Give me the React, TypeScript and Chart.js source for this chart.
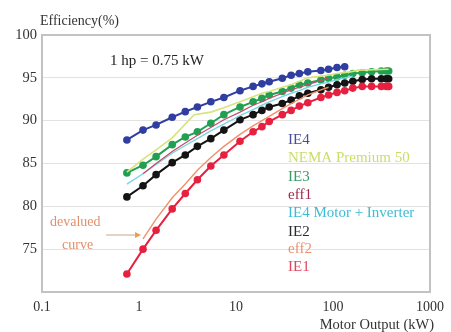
import React, { useEffect, useRef } from "react";
import { Chart, registerables } from "chart.js";

Chart.register(...registerables);

// IEC rated outputs (kW)
const kwIEC = [0.75, 1.1, 1.5, 2.2, 3, 4, 5.5, 7.5, 11, 15, 18.5, 22, 30, 37, 45, 55, 75, 90, 110, 132, 160, 200, 250, 315, 355, 375];
const kwEff = [1.1, 1.5, 2.2, 3, 4, 5.5, 7.5, 11, 15, 18.5, 22, 30, 37, 45, 55, 75, 90];
const kwNema = [0.75, 1.1, 1.5, 2.2, 3.7, 5.5, 7.5, 11, 15, 18.5, 22, 30, 37, 45, 55, 75, 90, 110, 150, 185, 375];

const ie4Values = [87.75, 88.9, 89.5, 90.4, 91.05, 91.6, 92.2, 92.7, 93.5, 94.0, 94.3, 94.55, 94.95, 95.3, 95.5, 95.7, 95.85, 96.0, 96.2, 96.3];
const ie3Values = [83.9, 84.8, 85.8, 87.2, 88.1, 88.7, 89.7, 90.7, 91.6, 92.2, 92.6, 93.0, 93.4, 93.8, 94.2, 94.4, 94.75, 94.95, 95.1, 95.3, 95.5, 95.6, 95.7, 95.8, 95.8, 95.8];
const ie2Values = [81.1, 82.4, 83.7, 85.1, 86.0, 87.0, 87.9, 88.9, 90.1, 90.7, 91.2, 91.6, 92.0, 92.4, 92.9, 93.2, 93.6, 93.9, 94.2, 94.4, 94.6, 94.8, 94.9, 94.9, 94.9, 94.9];
const ie1Values = [72.1, 75.0, 77.2, 79.7, 81.5, 83.1, 84.7, 86.0, 87.6, 88.7, 89.3, 89.9, 90.7, 91.2, 91.7, 92.1, 92.7, 93.0, 93.3, 93.5, 93.8, 94.0, 94.0, 94.0, 94.0, 94.0];
const nemaValues = [84.0, 85.5, 86.6, 88.0, 90.7, 91.0, 91.5, 92.2, 92.8, 93.2, 93.4, 93.9, 94.2, 94.6, 95.0, 95.2, 95.3, 95.5, 95.7, 95.9, 96.0];
const eff1Values = [83.8, 85.0, 86.4, 87.4, 88.3, 89.2, 90.1, 91.0, 91.8, 92.2, 92.6, 93.2, 93.6, 93.9, 94.2, 94.7, 95.0];
const eff2Values = [76.2, 78.5, 81.0, 82.6, 84.2, 85.7, 87.0, 88.4, 89.4, 90.0, 90.5, 91.4, 92.0, 92.5, 93.0, 93.6, 93.9];
const inverterValues = [82.6, 83.8, 84.9, 86.2, 87.1, 87.9, 88.8, 89.6, 90.6, 91.3, 91.8, 92.2, 92.8, 93.2, 93.5, 93.9, 94.3, 94.5, 94.8, 95.0, 95.2];

const xTicks = [0.1, 1, 10, 100, 1000];
const xTickLabels = ["0.1", "1", "10", "100", "1000"];
const yTickHidden = 70;

const legendLabels = ["IE4", "NEMA Premium 50", "IE3", "eff1", "IE4 Motor + Inverter", "IE2", "eff2", "IE1"];
const legendColors = ["#4a4c98", "#ccdc68", "#3a9a6c", "#a22a4c", "#3cbcd4", "#2a2a34", "#ea9272", "#e24460"];

const SERIF = "'Liberation Serif', 'DejaVu Serif', serif";

function pts(xs: number[], ys: number[]) {
  return ys.map((y, i) => ({ x: xs[i], y }));
}

const annotations = {
  id: "annotations",
  beforeDatasetsDraw(chart: any) {
    const { ctx, chartArea } = chart;
    ctx.save();
    ctx.strokeStyle = "#c2c2c2";
    ctx.lineWidth = 2;
    ctx.strokeRect(chartArea.left, chartArea.top, chartArea.right - chartArea.left, chartArea.bottom - chartArea.top);
    ctx.restore();
  },
  afterDatasetsDraw(chart: any) {
    const { ctx, scales } = chart;
    ctx.save();
    ctx.textBaseline = "middle";
    ctx.textAlign = "left";
    // y axis title
    ctx.fillStyle = "#333";
    ctx.font = `14px ${SERIF}`;
    ctx.fillText("Efficiency(%)", 40, 21);
    // note
    ctx.font = `15px ${SERIF}`;
    ctx.fillStyle = "#222";
    ctx.fillText("1 hp = 0.75 kW", 110, 61);
    // legend texts
    ctx.font = `15px ${SERIF}`;
    const ys = [140, 158, 177, 195, 213, 232, 249, 267];
    legendLabels.forEach((t, i) => {
      ctx.fillStyle = legendColors[i];
      ctx.fillText(t, 288, ys[i]);
    });
    // devalued curve
    ctx.fillStyle = "#e2906c";
    ctx.font = `14px ${SERIF}`;
    ctx.fillText("devalued", 50, 222);
    ctx.fillText("curve", 62, 245);
    const ax = scales.x.getPixelForValue(1.05);
    const ay = 235;
    ctx.strokeStyle = "#c8a890";
    ctx.lineWidth = 1;
    ctx.beginPath();
    ctx.moveTo(106, ay);
    ctx.lineTo(ax - 4, ay);
    ctx.stroke();
    ctx.fillStyle = "#e8a050";
    ctx.beginPath();
    ctx.moveTo(ax, ay);
    ctx.lineTo(ax - 6, ay - 3);
    ctx.lineTo(ax - 6, ay + 3);
    ctx.closePath();
    ctx.fill();
    // x axis title
    ctx.fillStyle = "#333";
    ctx.font = `14.5px ${SERIF}`;
    ctx.textAlign = "right";
    ctx.fillText("Motor Output (kW)", 434, 325);
    ctx.restore();
  },
};

export default function App() {
  const ref = useRef<HTMLCanvasElement | null>(null);
  useEffect(() => {
    if (!ref.current) return;
    const markerSet = (label: string, xs: number[], ys: number[], color: string) => ({
      label,
      data: pts(xs, ys),
      showLine: true,
      borderColor: color,
      backgroundColor: color,
      borderWidth: 2,
      pointRadius: 3.8,
      pointBorderWidth: 0,
      pointHoverRadius: 3.8,
      order: 2,
    });
    const lineSet = (label: string, xs: number[], ys: number[], color: string, w = 1.4) => ({
      label,
      data: pts(xs, ys),
      showLine: true,
      borderColor: color,
      backgroundColor: color,
      borderWidth: w,
      pointRadius: 0,
      order: 1,
    });
    const chart = new Chart(ref.current, {
      type: "scatter",
      data: {
        datasets: [
          markerSet("IE1", kwIEC, ie1Values, "#e82040"),
          markerSet("IE2", kwIEC, ie2Values, "#141414"),
          markerSet("IE3", kwIEC, ie3Values, "#22a052"),
          markerSet("IE4", kwIEC, ie4Values, "#2f3ea0"),
          lineSet("eff2", kwEff, eff2Values, "#f0906c"),
          lineSet("eff1", kwEff, eff1Values, "#c84a6c", 1.2),
          lineSet("IE4 Motor + Inverter", kwIEC, inverterValues, "#7cd4e4"),
          lineSet("NEMA Premium 50", kwNema, nemaValues, "#d6e47c", 1.6),
        ] as any,
      },
      options: {
        animation: false,
        responsive: false,
        devicePixelRatio: 1,
        layout: { padding: { left: 0, top: 35, right: 14, bottom: 0 } },
        plugins: { legend: { display: false }, tooltip: { enabled: false } },
        scales: {
          x: {
            type: "logarithmic",
            min: 0.1,
            max: 1000,
            afterBuildTicks: (scale: any) => {
              scale.ticks = xTicks.map((v) => ({ value: v }));
            },
            afterFit: (scale: any) => {
              scale.height = 40;
            },
            grid: { display: false, drawTicks: false },
            border: { display: false },
            ticks: {
              padding: 7,
              color: "#333",
              font: { family: SERIF, size: 14 },
              autoSkip: false,
              maxRotation: 0,
              callback: (v: any) => {
                const i = xTicks.indexOf(Number(v));
                return i >= 0 ? xTickLabels[i] : "";
              },
            },
          },
          y: {
            min: 70,
            max: 100,
            afterFit: (scale: any) => {
              scale.width = 42;
            },
            grid: { color: "#e2e2e2", drawTicks: false, lineWidth: 1 },
            border: { display: false },
            ticks: {
              stepSize: 5,
              padding: 5,
              color: "#333",
              font: { family: SERIF, size: 14.5 },
              callback: (v: any) => (Number(v) === yTickHidden ? "" : String(v)),
            },
          },
        },
      },
      plugins: [annotations],
    });
    return () => chart.destroy();
  }, []);
  return (
    <div style={{ position: "fixed", left: 0, top: 0, width: 451, height: 332, background: "#fff" }}>
      <canvas ref={ref} width={451} height={332} />
    </div>
  );
}
